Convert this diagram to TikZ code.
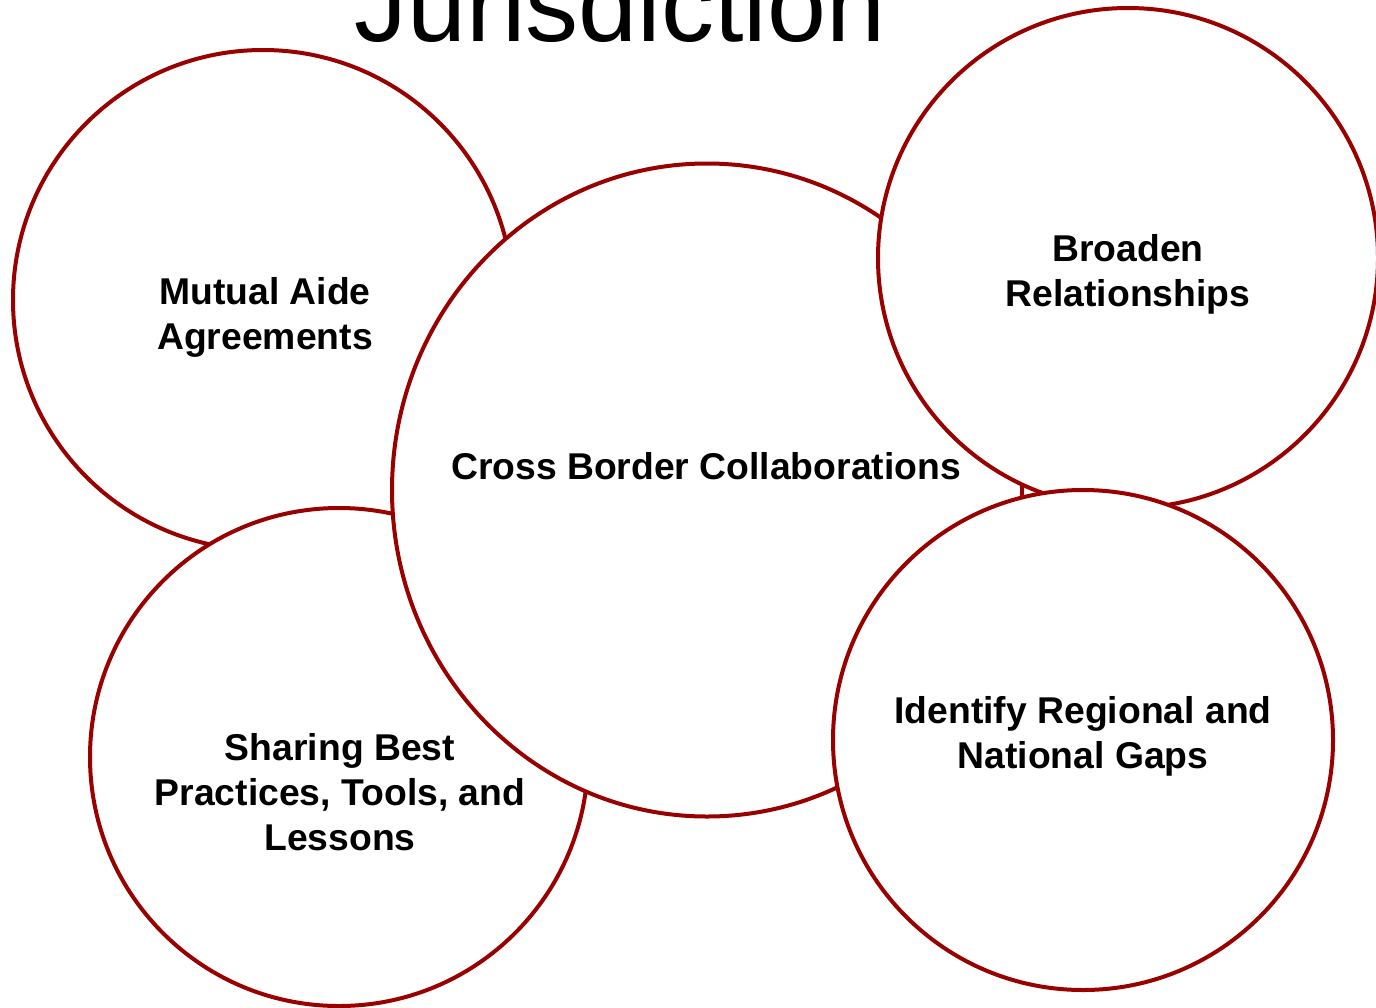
\documentclass[tikz,border=0pt]{standalone}
\usepackage{fontspec}
\setmainfont{Liberation Sans}
\usetikzlibrary{shapes.geometric}
\definecolor{ring}{HTML}{990000}
\begin{document}
\begin{tikzpicture}[x=1pt,y=-1pt,
  bubble/.style={circle,draw=ring,fill=white,line width=4pt,minimum size=500pt,inner sep=0pt},
  lbl/.style={font=\bfseries\fontsize{37.3}{45}\selectfont,align=center,inner sep=0pt},
  ttl/.style={font=\fontsize{106}{120}\selectfont,inner sep=0pt,anchor=base}]
\useasboundingbox (0,0) rectangle (1376,1007);
\node[ttl] (title) at (620,41) {Jurisdiction};
\node[bubble] (mutual) at (263,300) {};
\node[bubble,minimum size=498pt] (sharing) at (339,757) {};
\node[ellipse,draw=ring,fill=white,line width=4pt,minimum width=630pt,minimum height=653pt,inner sep=0pt] (cross) at (707,490) {};
\node[bubble] (broaden) at (1128,258) {};
\node[bubble] (identify) at (1083,740) {};
\node[lbl] (tmutual) at (265,317) {Mutual Aide\\Agreements};
\node[lbl] (tcross) at (706,466) {Cross Border Collaborations};
\node[lbl] (tbroaden) at (1128,274) {Broaden\\Relationships};
\node[lbl] (tidentify) at (1083,736) {Identify Regional and\\National Gaps};
\node[lbl] (tsharing) at (340,792) {Sharing Best\\Practices, Tools, and\\Lessons};
\end{tikzpicture}
\end{document}
